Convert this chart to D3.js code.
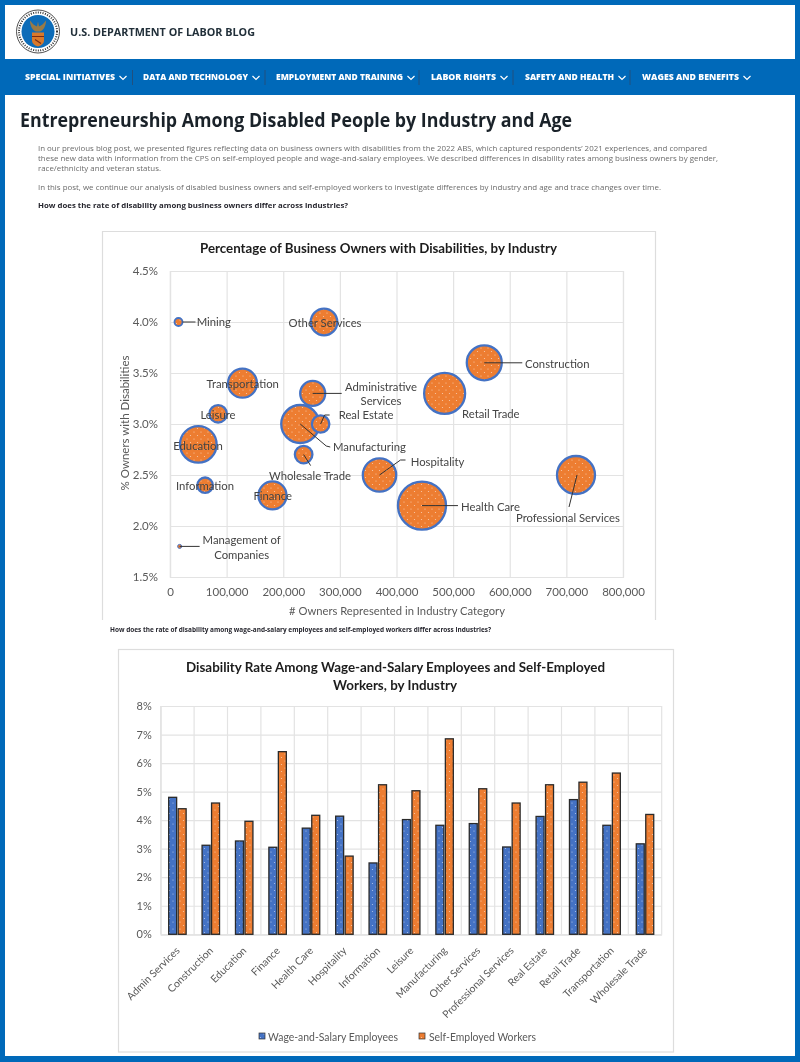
<!DOCTYPE html>
<html><head><meta charset="utf-8">
<style>
html,body{margin:0;padding:0;background:#fff}
svg{display:block;filter:blur(.3px)}
text{font-family:Lato,"Noto Sans",sans-serif}
</style>
<script src="https://cdn.jsdelivr.net/npm/d3@7"></script>
</head><body><svg id="c" width="800" height="1062"></svg>
<script>
// ---- bubble chart data
const bubbleNames = ["Mining","Other Services","Construction","Retail Trade","Transportation","Administrative Services","Leisure","Manufacturing","Real Estate","Wholesale Trade","Education","Hospitality","Information","Finance","Health Care","Professional Services","Management of Companies"];
const bubbleOwners = [15000,272000,555000,485000,128000,252000,85000,230000,266000,236000,50000,370000,62000,181000,445000,717000,17000];
const bubbleRates = [4.0,4.0,3.6,3.3,3.4,3.3,3.1,3.0,3.0,2.7,2.8,2.5,2.4,2.3,2.2,2.5,1.8];
const bubbleSizes = [16,177,306,420,210,156,76,361,76,77,335,279,59,196,576,361,4];
const xTicks = [0,100000,200000,300000,400000,500000,600000,700000,800000];
const yTicks = [1.5,2,2.5,3,3.5,4,4.5];
// ---- bar chart data
const barCategories = ["Admin Services","Construction","Education","Finance","Health Care","Hospitality","Information","Leisure","Manufacturing","Other Services","Professional Services","Real Estate","Retail Trade","Transportation","Wholesale Trade"];
const barSeries = ["Wage-and-Salary Employees","Self-Employed Workers"];
const wageValues = [4.8,3.12,3.27,3.05,3.72,4.14,2.5,4.02,3.82,3.88,3.06,4.13,4.72,3.82,3.17];
const selfValues = [4.4,4.6,3.96,6.4,4.17,2.74,5.24,5.03,6.85,5.1,4.6,5.24,5.33,5.65,4.2];
const barTicks = [0,1,2,3,4,5,6,7,8];
// ---- page text
const navItems = ["SPECIAL INITIATIVES","DATA AND TECHNOLOGY","EMPLOYMENT AND TRAINING","LABOR RIGHTS","SAFETY AND HEALTH","WAGES AND BENEFITS"];

const BLUE="#0069b9", ORANGE="#ED7D31", SER="#4472C4", GRID="#e3e3e3", TXT="#595959", LBL="#444";
const svg=d3.select("#c");
const defs=svg.append("defs");
function dots(id,col){
  const p=defs.append("pattern").attr("id",id).attr("width",7).attr("height",7).attr("patternUnits","userSpaceOnUse");
  p.append("rect").attr("width",7).attr("height",7).attr("fill",col);
  [[1.5,1.5],[5,5]].forEach(c=>p.append("circle").attr("cx",c[0]).attr("cy",c[1]).attr("r",.6).attr("fill","#fff").attr("opacity",.6));
}
dots("po",ORANGE);dots("pb",SER);
function T(g,s,x,y,o={}){
  const t=g.append("text").attr("x",x).attr("y",y).attr("dominant-baseline","central").text(s)
    .attr("font-size",o.size||11).attr("fill",o.fill||LBL).attr("text-anchor",o.anchor||"start");
  if(o.weight)t.attr("font-weight",o.weight);
  if(o.font)t.style("font-family",o.font);
  if(o.width)t.attr("textLength",o.width).attr("lengthAdjust","spacingAndGlyphs");
  return t;
}
// page frame
svg.append("rect").attr("width",800).attr("height",1062).attr("fill",BLUE);
svg.append("rect").attr("x",5).attr("y",5).attr("width",790).attr("height",54).attr("fill","#fff");
svg.append("rect").attr("x",5).attr("y",95).attr("width",790).attr("height",961).attr("fill","#fff");
// logo
const lg=svg.append("g").attr("transform","translate(38,31.5)");
lg.append("circle").attr("r",21.5).attr("fill","#fff").attr("stroke","#222").attr("stroke-width",.8);
lg.append("circle").attr("r",19).attr("fill","none").attr("stroke","#333").attr("stroke-width",2).attr("stroke-dasharray","1 1.4");
lg.append("circle").attr("r",16.5).attr("fill","#0d6cb8");
lg.append("path").attr("d","M-8,-11 C-5,-7 -3,-6 -1,-5 L0,-10 L1,-5 C3,-6 5,-7 8,-11 C8,-5 5,-1 2,0 L-2,0 C-5,-1 -8,-5 -8,-11Z").attr("fill","#9a7a45");
lg.append("path").attr("d","M-6,1 H6 V9 Q6,13 0,15 Q-6,13 -6,9Z").attr("fill","#d9792b");
lg.append("path").attr("d","M-6,5 H6 M-3,8 L3,12").attr("stroke","#7a2a12").attr("stroke-width",1.2);
T(svg,"U.S. DEPARTMENT OF LABOR BLOG",70,31.5,{size:11,weight:700,fill:"#22303a",font:"'Open Sans'",width:185});
// nav
const navStart=[25,143,276,431,525,642], navEnd=[115,248,403,496,614,739], navSep=[132.5,265,419,513,630];
navItems.forEach((s,i)=>{
  T(svg,s,navStart[i],76,{size:9.5,weight:800,fill:"#fff",font:"'Open Sans'",width:navEnd[i]-navStart[i]});
  const c=navEnd[i]+8;
  svg.append("path").attr("d",`M${c-3.5},76 L${c},79.5 L${c+3.5},76`).attr("fill","none").attr("stroke","#fff").attr("stroke-width",1.2);
  if(navSep[i])svg.append("line").attr("x1",navSep[i]).attr("x2",navSep[i]).attr("y1",70).attr("y2",85).attr("stroke","#20507f").attr("stroke-width",1);
});
// headline + paragraphs
T(svg,"Entrepreneurship Among Disabled People by Industry and Age",20,119,{size:20,weight:700,fill:"#1a2229",font:"'Open Sans'",width:552});
const para=[["In our previous blog post, we presented figures reflecting data on business owners with disabilities from the 2022 ABS, which captured respondents’ 2021 experiences, and compared",147,669],
["these new data with information from the CPS on self-employed people and wage-and-salary employees. We described differences in disability rates among business owners by gender,",157.5,680],
["race/ethnicity and veteran status.",167.5,123],
["In this post, we continue our analysis of disabled business owners and self-employed workers to investigate differences by industry and age and trace changes over time.",186,623]];
para.forEach(p=>T(svg,p[0],38,p[1],{size:8,fill:"#6b6b6b",font:"'Open Sans'",width:p[2]}));
T(svg,"How does the rate of disability among business owners differ across industries?",38,205,{size:7.5,weight:700,fill:"#26262e",font:"'Open Sans'",width:310});
T(svg,"How does the rate of disability among wage-and-salary employees and self-employed workers differ across industries?",110,629,{size:6.5,weight:700,fill:"#26262e",font:"'Open Sans'",width:381});

// ---------- bubble chart
svg.append("path").attr("d","M102.5,620 V231.5 H655.5 V620").attr("fill","#fff").attr("stroke","#ddd").attr("stroke-width",1.2);
T(svg,"Percentage of Business Owners with Disabilities, by Industry",200,248,{size:13,weight:700,fill:"#1c1c1c",width:357});
const L=170,R=623,Tp=271,B=577;
const x=d3.scaleLinear().domain([0,800000]).range([L,R]);
const y=d3.scaleLinear().domain([1.5,4.5]).range([B,Tp]);
const rr=d3.scaleSqrt().domain([0,576]).range([0,24]);
function styleAxis(g){
  g.selectAll("path.domain").attr("stroke",GRID).attr("stroke-width",1.2);
  g.selectAll(".tick line").attr("stroke",GRID).attr("stroke-width",1.2);
  g.selectAll("text").attr("fill",TXT).attr("font-size",11.5).style("font-family","Lato");
}
svg.append("g").attr("transform",`translate(0,${B})`)
  .call(d3.axisBottom(x).tickValues(xTicks).tickFormat(d3.format(",")).tickSize(-(B-Tp)).tickPadding(11)).call(styleAxis);
svg.append("g").attr("transform",`translate(${L},0)`)
  .call(d3.axisLeft(y).tickValues(yTicks).tickFormat(d=>d.toFixed(1)+"%").tickSize(-(R-L)).tickPadding(12)).call(styleAxis);
T(svg,"# Owners Represented in Industry Category",289,610.5,{size:11.5,fill:TXT,width:216});
T(svg,"% Owners with Disabilities",0,0,{size:11.5,fill:TXT,anchor:"middle"}).attr("transform","translate(124,423) rotate(-90)");
const idx=bubbleNames.map((_,i)=>i);
svg.append("g").selectAll("circle").data(idx).join("circle")
  .attr("cx",i=>x(bubbleOwners[i])).attr("cy",i=>y(bubbleRates[i])).attr("r",i=>rr(bubbleSizes[i]))
  .attr("fill","url(#po)").attr("stroke",SER).attr("stroke-width",i=>bubbleSizes[i]<10?1:bubbleSizes[i]<20?1.8:2.3);
// leader lines: page-layout annotations, offsets from each bubble's centre
const leaders={"Mining":[[4,0],[17,0]],"Construction":[[0,0],[38,0]],"Administrative Services":[[0,0],[29,0]],"Real Estate":[[0,0],[4,-9],[9,-9]],"Manufacturing":[[0,0],[26,22],[30,23]],"Wholesale Trade":[[0,0],[7,11]],"Hospitality":[[0,0],[21,-15],[26,-15]],"Health Care":[[0,0],[36,0]],"Professional Services":[[1,0],[-7,32]],"Management of Companies":[[0,0],[20,0]]};
const line=d3.line();
Object.keys(leaders).forEach(n=>{
  const i=bubbleNames.indexOf(n),cx=x(bubbleOwners[i]),cy=y(bubbleRates[i]);
  svg.append("path").attr("d",line(leaders[n].map(p=>[cx+p[0],cy+p[1]]))).attr("fill","none").attr("stroke","#333").attr("stroke-width",1);
});
const labels=[["Mining",196.7,321.7,"start"],["Other Services",325,322,"middle"],["Transportation",242.7,383,"middle"],["Leisure",218,414,"middle"],["Education",198,445,"middle"],["Information",205,485.5,"middle"],["Finance",272.7,495.7,"middle"],["Wholesale Trade",310,475,"middle"],["Manufacturing",333,446.7,"start"],["Real Estate",338.7,414,"start"],["Administrative",381,386.5,"middle"],["Services",381,400.6,"middle"],["Hospitality",410.7,461,"start"],["Health Care",461,506,"start"],["Professional Services",516,517,"start"],["Construction",525,363,"start"],["Retail Trade",462,413,"start"],["Management of",241.7,539,"middle"],["Companies",241.7,554,"middle"]];
labels.forEach(l=>T(svg,l[0],l[1],l[2],{size:11.3,anchor:l[3],fill:"#444"}));

// ---------- bar chart
svg.append("rect").attr("x",118.5).attr("y",649.5).attr("width",555).attr("height",402.5).attr("fill","#fff").attr("stroke","#ddd").attr("stroke-width",1.2);
T(svg,"Disability Rate Among Wage-and-Salary Employees and Self-Employed",186,667,{size:13,weight:700,fill:"#1c1c1c",width:419});
T(svg,"Workers, by Industry",333,684.5,{size:13,weight:700,fill:"#1c1c1c",width:124});
const bL=160.7,bR=661.7,bT=706,bB=934.3;
const bx=d3.scaleBand().domain(barCategories).range([bL,bR]);
const bi=d3.scaleBand().domain(barSeries).range([0,bx.bandwidth()]).paddingInner(.16).paddingOuter(.84);
const by=d3.scaleLinear().domain([0,8]).range([bB,bT]);
const yA=svg.append("g").attr("transform",`translate(${bL},0)`)
  .call(d3.axisLeft(by).tickValues(barTicks).tickFormat(d=>d+"%").tickSize(-(bR-bL)).tickPadding(9)).call(styleAxis);
yA.selectAll("text").attr("font-size",11);
svg.append("g").selectAll("line").data(d3.range(barCategories.length+1)).join("line")
  .attr("x1",i=>bL+i*bx.step()).attr("x2",i=>bL+i*bx.step()).attr("y1",bT).attr("y2",bB).attr("stroke",GRID).attr("stroke-width",1.2);
const xA=svg.append("g").attr("transform",`translate(0,${bB})`).call(d3.axisBottom(bx).tickSize(0));
xA.selectAll("path.domain").attr("stroke",GRID).attr("stroke-width",1.2);
xA.selectAll("text").attr("fill",TXT).attr("font-size",10.4).style("font-family","Lato")
  .attr("text-anchor","end").attr("dy",0).attr("y",0)
  .attr("transform","translate(3,17) rotate(-45)");
const barRows=[wageValues,selfValues], barFill=["url(#pb)","url(#po)"];
barSeries.forEach((s,k)=>{
  svg.append("g").selectAll("rect").data(barCategories).join("rect")
    .attr("x",c=>bx(c)+bi(s)).attr("width",bi.bandwidth())
    .attr("y",(c,i)=>by(barRows[k][i])).attr("height",(c,i)=>bB-by(barRows[k][i]))
    .attr("fill",barFill[k]).attr("stroke","#2a2a2a").attr("stroke-width",1.3);
});
// legend
const legX=[259,419], legTxt=[268,429], legW=[130,107];
barSeries.forEach((s,k)=>{
  svg.append("rect").attr("x",legX[k]).attr("y",1033).attr("width",6).attr("height",6).attr("fill",barFill[k]).attr("stroke","#333").attr("stroke-width",.7);
  T(svg,s,legTxt[k],1036,{size:11,fill:TXT,width:legW[k]});
});
</script></body></html>
